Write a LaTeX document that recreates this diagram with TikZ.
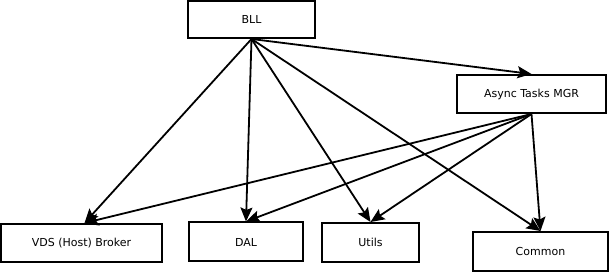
\documentclass[tikz,border=0pt]{standalone}
\usepackage{fontspec}
\setmainfont{DejaVu Sans}
\usetikzlibrary{arrows.meta}
\begin{document}
\begin{tikzpicture}[x=1pt,y=-1pt,
  box/.style={draw=black,line width=2pt,fill=white,rectangle,inner sep=0pt,font=\fontsize{11}{13}\selectfont},
  dep/.style={line width=1.8pt,-{Stealth[length=14pt,width=12pt,inset=2.5pt]}}]
\useasboundingbox (0,0) rectangle (611,272);
\node[box,minimum width=127pt,minimum height=37pt] (bll) at (251.5,19.5) {BLL};
\node[box,minimum width=149pt,minimum height=38pt] (async) at (531.5,94) {Async Tasks MGR};
\node[box,minimum width=161pt,minimum height=38pt] (vds) at (81.5,243) {VDS (Host) Broker};
\node[box,minimum width=114pt,minimum height=39pt] (dal) at (246,242) {DAL};
\node[box,minimum width=97pt,minimum height=39pt] (utils) at (370.5,242.5) {Utils};
\node[box,minimum width=135pt,minimum height=39pt] (common) at (540.5,251.5) {Common};
\draw[dep] (bll.south) -- (async.north);
\draw[dep] (bll.south) -- ([xshift=3pt]vds.north);
\draw[dep] (bll.south) -- (dal.north);
\draw[dep] (bll.south) -- (utils.north);
\draw[dep] (bll.south) -- (common.north);
\draw[dep] (async.south) -- ([xshift=3pt]vds.north);
\draw[dep] (async.south) -- (dal.north);
\draw[dep] (async.south) -- (utils.north);
\draw[dep] (async.south) -- (common.north);
\end{tikzpicture}
\end{document}
